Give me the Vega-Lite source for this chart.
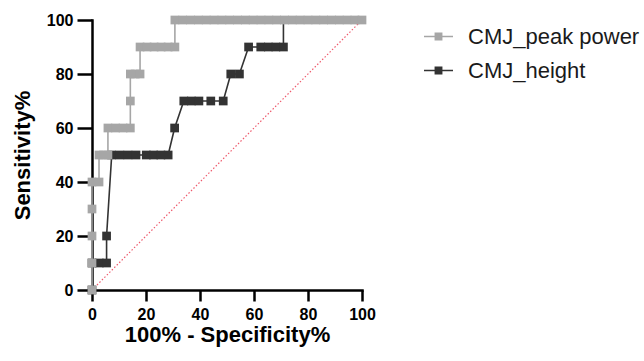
{
  "$schema": "https://vega.github.io/schema/vega-lite/v6.json",
  "width": 270,
  "height": 270,
  "autosize": {"type": "none"},
  "padding": {"left": 92, "top": 20, "right": 282, "bottom": 71},
  "background": "white",
  "config": {"view": {"stroke": null}, "font": "Liberation Sans"},
  "datasets": {
    "diag": [{"x": 0, "y": 0}, {"x": 100, "y": 100}],
    "roc": [
      {"series": "CMJ_height", "i": 1, "x": 0, "y": 0},
      {"series": "CMJ_height", "i": 2, "x": 0, "y": 10},
      {"series": "CMJ_height", "i": 3, "x": 2.7, "y": 10},
      {"series": "CMJ_height", "i": 4, "x": 5.4, "y": 10},
      {"series": "CMJ_height", "i": 5, "x": 5.4, "y": 20},
      {"series": "CMJ_height", "i": 6, "x": 7.3, "y": 50},
      {"series": "CMJ_height", "i": 7, "x": 10.3, "y": 50},
      {"series": "CMJ_height", "i": 8, "x": 13.3, "y": 50},
      {"series": "CMJ_height", "i": 9, "x": 16.3, "y": 50},
      {"series": "CMJ_height", "i": 10, "x": 20.1, "y": 50},
      {"series": "CMJ_height", "i": 11, "x": 22.8, "y": 50},
      {"series": "CMJ_height", "i": 12, "x": 25.5, "y": 50},
      {"series": "CMJ_height", "i": 13, "x": 28.2, "y": 50},
      {"series": "CMJ_height", "i": 14, "x": 30.6, "y": 60},
      {"series": "CMJ_height", "i": 15, "x": 34.0, "y": 70},
      {"series": "CMJ_height", "i": 16, "x": 36.8, "y": 70},
      {"series": "CMJ_height", "i": 17, "x": 39.6, "y": 70},
      {"series": "CMJ_height", "i": 18, "x": 44.0, "y": 70},
      {"series": "CMJ_height", "i": 19, "x": 48.6, "y": 70},
      {"series": "CMJ_height", "i": 20, "x": 51.4, "y": 80},
      {"series": "CMJ_height", "i": 21, "x": 54.6, "y": 80},
      {"series": "CMJ_height", "i": 22, "x": 58.0, "y": 90},
      {"series": "CMJ_height", "i": 23, "x": 62.5, "y": 90},
      {"series": "CMJ_height", "i": 24, "x": 65.3, "y": 90},
      {"series": "CMJ_height", "i": 25, "x": 68.1, "y": 90},
      {"series": "CMJ_height", "i": 26, "x": 70.9, "y": 90},
      {"series": "CMJ_height", "i": 27, "x": 70.9, "y": 100},
      {"series": "CMJ_height", "i": 28, "x": 100, "y": 100},
      {"series": "CMJ_peak power", "i": 1, "x": 0, "y": 0},
      {"series": "CMJ_peak power", "i": 2, "x": 0, "y": 10},
      {"series": "CMJ_peak power", "i": 3, "x": 0, "y": 20},
      {"series": "CMJ_peak power", "i": 4, "x": 0, "y": 30},
      {"series": "CMJ_peak power", "i": 5, "x": 0, "y": 40},
      {"series": "CMJ_peak power", "i": 6, "x": 2.6, "y": 40},
      {"series": "CMJ_peak power", "i": 7, "x": 2.6, "y": 50},
      {"series": "CMJ_peak power", "i": 8, "x": 4.3, "y": 50},
      {"series": "CMJ_peak power", "i": 9, "x": 5.9, "y": 50},
      {"series": "CMJ_peak power", "i": 10, "x": 5.9, "y": 60},
      {"series": "CMJ_peak power", "i": 11, "x": 8.7, "y": 60},
      {"series": "CMJ_peak power", "i": 12, "x": 11.5, "y": 60},
      {"series": "CMJ_peak power", "i": 13, "x": 14.2, "y": 60},
      {"series": "CMJ_peak power", "i": 14, "x": 14.2, "y": 70},
      {"series": "CMJ_peak power", "i": 15, "x": 14.2, "y": 80},
      {"series": "CMJ_peak power", "i": 16, "x": 16.0, "y": 80},
      {"series": "CMJ_peak power", "i": 17, "x": 17.8, "y": 80},
      {"series": "CMJ_peak power", "i": 18, "x": 17.8, "y": 90},
      {"series": "CMJ_peak power", "i": 19, "x": 20.4, "y": 90},
      {"series": "CMJ_peak power", "i": 20, "x": 23.0, "y": 90},
      {"series": "CMJ_peak power", "i": 21, "x": 25.6, "y": 90},
      {"series": "CMJ_peak power", "i": 22, "x": 28.2, "y": 90},
      {"series": "CMJ_peak power", "i": 23, "x": 30.7, "y": 90},
      {"series": "CMJ_peak power", "i": 24, "x": 30.7, "y": 100},
      {"series": "CMJ_peak power", "i": 25, "x": 33.6, "y": 100},
      {"series": "CMJ_peak power", "i": 26, "x": 36.5, "y": 100},
      {"series": "CMJ_peak power", "i": 27, "x": 39.4, "y": 100},
      {"series": "CMJ_peak power", "i": 28, "x": 42.3, "y": 100},
      {"series": "CMJ_peak power", "i": 29, "x": 45.2, "y": 100},
      {"series": "CMJ_peak power", "i": 30, "x": 48.1, "y": 100},
      {"series": "CMJ_peak power", "i": 31, "x": 51.0, "y": 100},
      {"series": "CMJ_peak power", "i": 32, "x": 53.9, "y": 100},
      {"series": "CMJ_peak power", "i": 33, "x": 56.8, "y": 100},
      {"series": "CMJ_peak power", "i": 34, "x": 59.7, "y": 100},
      {"series": "CMJ_peak power", "i": 35, "x": 62.6, "y": 100},
      {"series": "CMJ_peak power", "i": 36, "x": 65.5, "y": 100},
      {"series": "CMJ_peak power", "i": 37, "x": 68.4, "y": 100},
      {"series": "CMJ_peak power", "i": 38, "x": 71.3, "y": 100},
      {"series": "CMJ_peak power", "i": 39, "x": 74.2, "y": 100},
      {"series": "CMJ_peak power", "i": 40, "x": 77.1, "y": 100},
      {"series": "CMJ_peak power", "i": 41, "x": 80.0, "y": 100},
      {"series": "CMJ_peak power", "i": 42, "x": 82.9, "y": 100},
      {"series": "CMJ_peak power", "i": 43, "x": 85.8, "y": 100},
      {"series": "CMJ_peak power", "i": 44, "x": 88.7, "y": 100},
      {"series": "CMJ_peak power", "i": 45, "x": 91.6, "y": 100},
      {"series": "CMJ_peak power", "i": 46, "x": 94.5, "y": 100},
      {"series": "CMJ_peak power", "i": 47, "x": 97.4, "y": 100},
      {"series": "CMJ_peak power", "i": 48, "x": 100, "y": 100}
    ]
  },
  "encoding": {
    "x": {
      "field": "x", "type": "quantitative",
      "scale": {"domain": [0, 100], "nice": false, "zero": true},
      "axis": {
        "values": [0, 20, 40, 60, 80, 100],
        "title": "100% - Specificity%",
        "grid": false,
        "domainColor": "black", "domainWidth": 2.5, "domainCap": "square",
        "tickColor": "black", "tickWidth": 2.5, "tickSize": 11,
        "labelFont": "Liberation Sans", "labelFontWeight": "bold", "labelFontSize": 16,
        "labelColor": "black", "labelPadding": 5, "labelFlush": false, "labelOverlap": false,
        "titleFont": "Liberation Sans", "titleFontSize": 22, "titleFontWeight": "bold",
        "titleColor": "black", "titlePadding": 2
      }
    },
    "y": {
      "field": "y", "type": "quantitative",
      "scale": {"domain": [0, 100], "nice": false, "zero": true},
      "axis": {
        "values": [0, 20, 40, 60, 80, 100],
        "title": "Sensitivity%",
        "grid": false,
        "domainColor": "black", "domainWidth": 2.5, "domainCap": "square",
        "tickColor": "black", "tickWidth": 2.5, "tickSize": 15,
        "labelFont": "Liberation Sans", "labelFontWeight": "bold", "labelFontSize": 16,
        "labelColor": "black", "labelPadding": 4, "labelFlush": false, "labelOverlap": false,
        "titleFont": "Liberation Sans", "titleFontSize": 22, "titleFontWeight": "bold",
        "titleColor": "black", "titlePadding": 12
      }
    },
    "color": {
      "field": "series", "type": "nominal",
      "scale": {"domain": ["CMJ_peak power", "CMJ_height"], "range": ["#a6a6a6", "#333333"]},
      "legend": {
        "title": null, "orient": "none", "legendX": 331, "legendY": 1, "padding": 0,
        "symbolType": "M-1,0H-0.22M0.22,0H1M-0.22,-0.22H0.22V0.22H-0.22Z",
        "symbolSize": 841, "symbolStrokeWidth": 1.5,
        "labelFont": "Liberation Sans", "labelFontSize": 22, "labelColor": "#1a1a1a",
        "labelOffset": 14, "labelLimit": 300, "rowPadding": 7,
        "encode": {"symbols": {"update": {
          "fill": {"scale": "color", "field": "value"},
          "stroke": {"scale": "color", "field": "value"},
          "opacity": {"value": 1}
        }}}
      }
    }
  },
  "layer": [
    {
      "data": {"name": "diag"},
      "mark": {"type": "line", "color": "#ee5a6c", "strokeDash": [1.5, 2], "strokeWidth": 1.2},
      "encoding": {"color": null}
    },
    {
      "data": {"name": "roc"},
      "transform": [{"filter": "datum.series === 'CMJ_height'"}],
      "mark": {"type": "line", "strokeWidth": 1.6},
      "encoding": {"order": {"field": "i", "type": "quantitative"}}
    },
    {
      "data": {"name": "roc"},
      "transform": [{"filter": "datum.series === 'CMJ_height' && datum.y < 100"}],
      "mark": {"type": "point", "shape": "square", "filled": true, "size": 76, "opacity": 1}
    },
    {
      "data": {"name": "roc"},
      "transform": [{"filter": "datum.series === 'CMJ_peak power'"}],
      "mark": {"type": "line", "strokeWidth": 1.6},
      "encoding": {"order": {"field": "i", "type": "quantitative"}}
    },
    {
      "data": {"name": "roc"},
      "transform": [{"filter": "datum.series === 'CMJ_peak power'"}],
      "mark": {"type": "point", "shape": "square", "filled": true, "size": 76, "opacity": 1}
    }
  ]
}
